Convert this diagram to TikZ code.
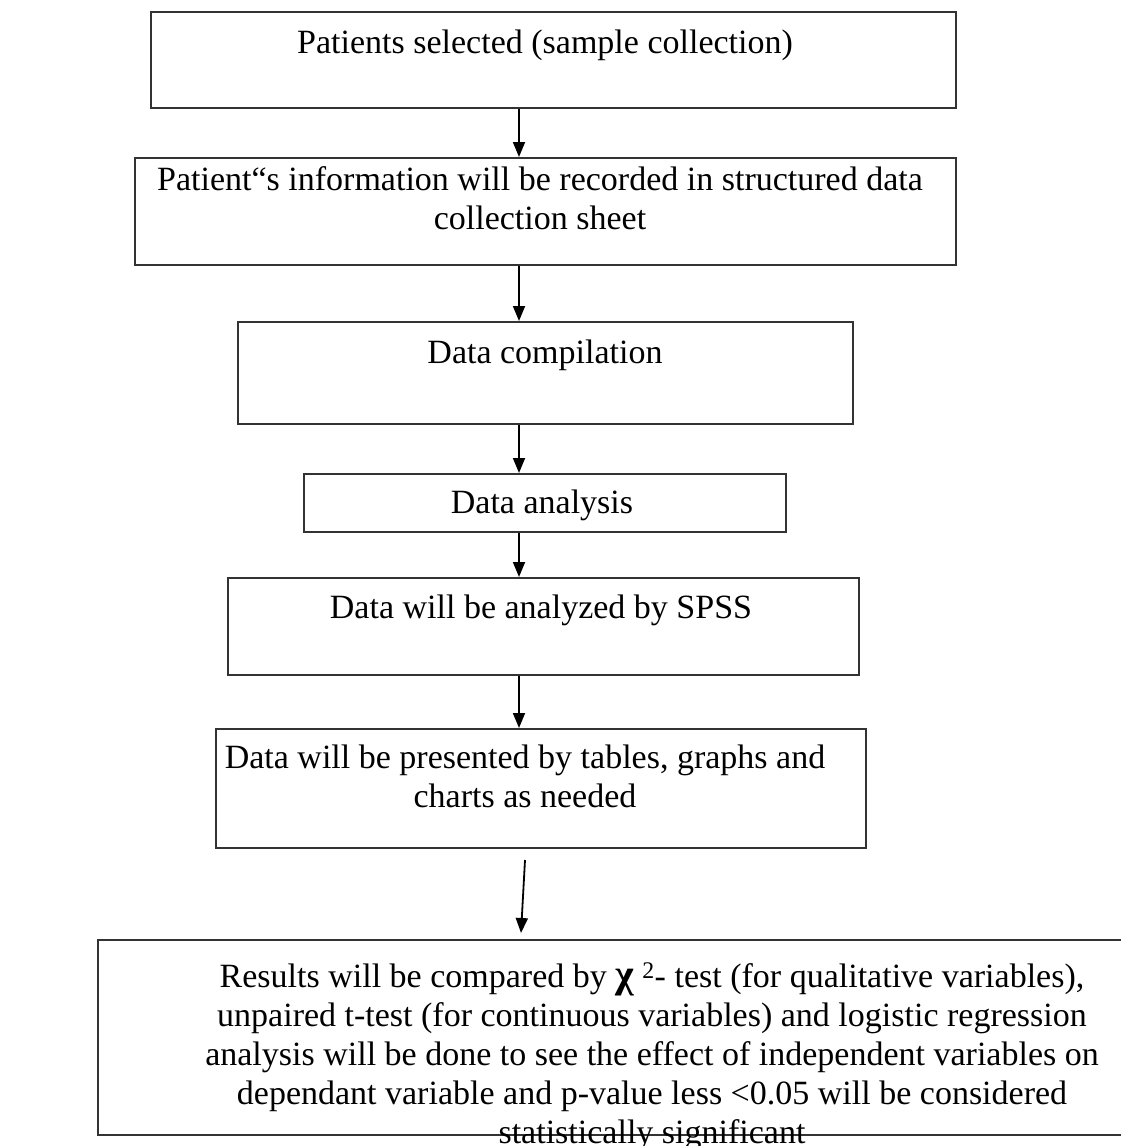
\documentclass[tikz,border=0pt]{standalone}
\usepackage{fontspec}
\setmainfont{Liberation Serif}
\usetikzlibrary{arrows.meta,calc}
\begin{document}
\begin{tikzpicture}[x=1pt,y=-1pt,
  box/.style={draw=black!80, line width=1.6pt, inner sep=0pt, anchor=north west},
  txt/.style={inner sep=0pt, anchor=north, align=center, font=\fontsize{34}{39}\selectfont},
  arr/.style={line width=1.8pt, -{Triangle[length=15pt,width=12pt]}}]
\useasboundingbox (0,0) rectangle (1121,1146);
% boxes
\node[box, minimum width=805pt, minimum height=96pt]  (b1) at (150,11)  {};
\node[box, minimum width=821pt, minimum height=107pt] (b2) at (134,157) {};
\node[box, minimum width=615pt, minimum height=102pt] (b3) at (237,321) {};
\node[box, minimum width=482pt, minimum height=58pt]  (b4) at (303,473) {};
\node[box, minimum width=631pt, minimum height=97pt]  (b5) at (227,577) {};
\node[box, minimum width=650pt, minimum height=119pt] (b6) at (215,728) {};
\node[box, minimum width=1050pt, minimum height=195pt] (b7) at (97,939) {};
% texts
\node[txt] (t1) at (545,21)  {\rule{0pt}{32pt}Patients selected (sample collection)};
\node[txt] (t2) at (540,158) {\rule{0pt}{32pt}Patient“s information will be recorded in structured data\\collection sheet};
\node[txt] (t3) at (545,331) {\rule{0pt}{32pt}Data compilation};
\node[txt] (t4) at (542,481) {\rule{0pt}{32pt}Data analysis};
\node[txt] (t5) at (541,586) {\rule{0pt}{32pt}Data will be analyzed by SPSS};
\node[txt] (t6) at (525,736) {\rule{0pt}{32pt}Data will be presented by tables, graphs and\\charts as needed};
\node[txt] (t7) at (652,955) {\rule{0pt}{32pt}Results will be compared by {\fontsize{40}{39}\selectfont\bfseries χ} \textsuperscript{2}- test (for qualitative variables),\\
unpaired t-test (for continuous variables) and logistic regression\\
analysis will be done to see the effect of independent variables on\\
dependant variable and p-value less <0.05 will be considered\\
statistically significant};
% connectors
\coordinate (ax) at (519,0);
\coordinate (a6s) at (525,860);
\draw[arr] (b1.south -| ax) -- (b2.north -| ax);
\draw[arr] (b2.south -| ax) -- (b3.north -| ax);
\draw[arr] (b3.south -| ax) -- (b4.north -| ax);
\draw[arr] (b4.south -| ax) -- (b5.north -| ax);
\draw[arr] (b5.south -| ax) -- (b6.north -| ax);
\draw[arr] (a6s) -- ($(b7.north -| ax)+(2,-6)$);
\end{tikzpicture}
\end{document}
